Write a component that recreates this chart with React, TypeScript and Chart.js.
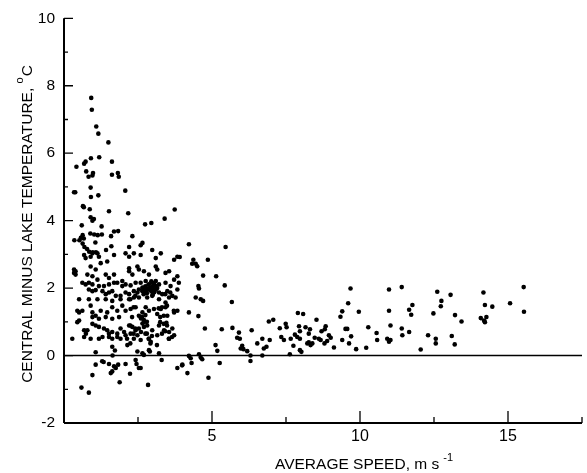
import { useEffect, useRef } from "react";
import { Chart, registerables } from "chart.js";

Chart.register(...registerables);

// ---- axis definitions ----
const xMin = 0;
const xMax = 17.5;
const yMin = -2;
const yMax = 10;
const xTickValues = [5, 10, 15];
const xMinorTicks = [2.5, 7.5, 12.5, 17.5];
const yTickValues = [-2, 0, 2, 4, 6, 8, 10];
const yMinorTicks = [-1, 1, 3, 5, 7, 9];
const xTitle = "AVERAGE SPEED, m s";
const xTitleSup = "-1";
const yTitle = "CENTRAL MINUS LAKE TEMPERATURE, ";
const yTitleSup = "o";
const yTitleUnit = "C";

// ---- data: [average speed (m/s), central minus lake temperature (°C)] ----
const largeDiffPoints: [number, number][] = [
  [0.92, 7.64], [0.94, 7.29], [1.09, 6.79], [1.16, 6.58], [1.5, 6.32], [0.91, 5.85], [1.19, 5.88],
  [0.68, 5.69], [0.73, 5.75], [0.42, 5.6], [1.62, 5.75], [0.75, 5.46], [0.98, 5.41], [0.96, 5.34],
  [0.83, 5.3], [1.62, 5.36], [1.82, 5.41], [1.85, 5.3], [0.9, 4.98], [0.34, 4.84], [0.38, 4.84],
  [2.07, 4.89], [0.91, 4.7], [1.16, 4.75], [2.17, 4.22], [1.52, 4.28], [0.64, 4.43], [0.67, 4.4],
  [0.87, 4.34], [0.9, 4.1], [1.01, 4.05], [0.96, 4.0], [1.27, 3.83], [0.6, 3.86], [2.74, 3.89],
  [2.95, 3.93], [3.4, 4.06], [3.74, 4.33], [1.69, 3.68], [1.83, 3.69], [2.31, 3.54], [2.65, 3.34],
  [4.22, 3.3], [5.46, 3.22], [0.89, 3.62], [1.02, 3.59], [1.14, 3.57], [0.63, 3.57], [0.57, 3.49],
  [0.52, 3.42], [0.35, 3.42], [0.67, 3.47], [1.28, 3.59], [1.59, 3.54], [0.63, 3.32], [0.69, 3.22],
  [1.06, 3.35], [1.6, 3.24], [2.2, 3.22], [2.59, 3.27], [0.78, 3.16], [0.85, 3.08], [0.97, 3.06],
  [1.08, 3.06], [1.42, 3.13],
];

const calmUpperPoints: [number, number][] = [
  [0.68, 2.98], [0.73, 2.89], [0.9, 2.93], [0.96, 3.03], [1.13, 3.03], [1.18, 2.93], [1.24, 2.74],
  [1.46, 2.79], [1.69, 2.98], [2.08, 3.03], [2.2, 2.93], [2.36, 3.03], [2.59, 2.98], [2.98, 3.13],
  [3.1, 2.89], [3.27, 3.03], [3.72, 2.84], [3.83, 2.93], [0.34, 2.55], [0.39, 2.5], [0.9, 2.64],
  [1.07, 2.55], [0.34, 2.45], [0.39, 2.4], [0.79, 2.4], [0.96, 2.35], [1.13, 2.25], [1.41, 2.4],
  [1.52, 2.3], [1.69, 2.4], [1.8, 2.16], [1.97, 2.21], [2.2, 2.59], [2.2, 2.5], [2.31, 2.4],
  [2.48, 2.64], [2.53, 2.55], [2.7, 2.5], [2.87, 2.4], [3.1, 2.64], [3.15, 2.55], [3.43, 2.45],
  [3.55, 2.5], [3.72, 2.25], [3.83, 2.35], [3.88, 2.16], [0.62, 2.16], [0.73, 2.11], [0.84, 2.16],
  [0.96, 2.11], [1.18, 2.06], [1.35, 2.06], [1.52, 2.11], [1.69, 2.16], [1.97, 2.06], [2.08, 2.11],
  [2.25, 2.08], [2.42, 2.16], [2.59, 2.16], [2.76, 2.21], [2.87, 2.11], [2.98, 2.16], [3.1, 2.21],
  [3.21, 2.11], [3.43, 2.16], [3.6, 2.06], [3.91, 2.92],
];

const calmLowerPoints: [number, number][] = [
  [0.51, 1.67], [0.84, 1.96], [0.96, 1.91], [1.07, 1.94], [1.3, 1.91], [1.41, 1.82], [1.52, 1.87],
  [1.63, 1.91], [1.75, 1.77], [1.91, 1.77], [2.08, 1.87], [2.2, 1.82], [2.36, 1.91], [2.48, 1.87],
  [2.53, 1.96], [2.65, 1.91], [2.7, 2.01], [2.76, 1.87], [2.81, 1.96], [2.93, 2.01], [3.04, 1.96],
  [3.1, 2.06], [3.21, 1.87], [3.32, 1.82], [3.49, 1.91], [3.55, 1.72], [3.66, 1.77], [3.77, 1.72],
  [3.83, 1.96], [0.84, 1.67], [1.13, 1.67], [1.41, 1.67], [1.63, 1.62], [1.91, 1.67], [2.2, 1.67],
  [2.36, 1.72], [2.53, 1.72], [2.81, 1.72], [2.98, 1.77], [3.21, 1.67], [3.43, 1.57],
  [0.45, 1.33], [0.51, 1.28], [0.62, 1.33], [0.9, 1.48], [0.96, 1.28], [1.07, 1.18], [1.24, 1.33],
  [1.46, 1.28], [1.63, 1.43], [1.8, 1.33], [1.97, 1.48], [2.08, 1.33], [2.25, 1.38], [2.42, 1.43],
  [2.53, 1.18], [2.59, 1.14], [2.65, 1.28], [2.76, 1.43], [2.87, 1.33], [3.04, 1.38], [3.15, 1.23],
  [3.27, 1.38], [3.43, 1.43], [3.49, 1.18], [3.72, 1.28], [3.83, 1.33], [0.96, 1.14], [1.18, 1.09],
  [1.41, 1.14], [1.63, 1.09], [1.86, 1.14],
  [0.45, 0.99], [0.51, 1.04], [0.68, 0.75], [0.79, 0.75], [0.96, 0.94], [1.07, 0.89], [1.18, 0.85],
  [1.35, 0.8], [1.46, 0.75], [1.52, 0.65], [1.63, 0.7], [1.8, 0.65], [1.91, 0.8], [2.03, 0.7],
  [2.2, 0.89], [2.31, 0.85], [2.42, 0.75], [2.53, 0.8], [2.7, 0.99], [2.81, 0.89], [2.98, 0.75],
  [3.21, 0.89], [3.38, 0.75], [3.55, 0.7], [3.66, 0.8], [3.72, 0.6], [0.28, 0.5],
  [0.68, 0.55], [0.9, 0.5], [1.18, 0.5], [1.3, 0.55], [1.52, 0.55], [1.63, 0.5], [1.8, 0.55],
  [1.91, 0.5], [2.08, 0.6], [2.25, 0.65], [2.36, 0.5], [2.48, 0.6], [2.59, 0.46], [2.87, 0.5],
  [2.93, 0.41], [3.15, 0.6], [3.55, 0.5], [1.63, 0.26], [2.14, 0.31], [2.87, 0.16],
  [3.21, 0.07], [0.74, 0.65], [1.64, 0.0],
];

const denseCorePoints: [number, number][] = [
  [2.75, 2.05], [2.85, 2.1], [2.9, 1.95], [3.0, 2.05], [3.05, 2.12], [2.95, 1.9], [2.8, 1.85],
  [3.1, 1.95], [2.7, 1.95], [2.95, 2.2], [3.15, 2.0], [2.65, 2.02], [3.0, 1.8], [2.85, 1.98],
  [3.05, 1.88], [2.6, 1.1], [2.7, 1.05], [2.75, 1.2], [2.65, 0.95], [2.8, 1.0], [2.7, 0.85],
  [2.6, 0.7], [2.75, 0.65], [3.31, 0.65], [3.54, 0.5], [3.65, 0.55], [2.97, 0.58], [3.14, 0.31],
  [2.92, 0.36], [3.42, 0.72], [3.48, 0.89], [3.25, 0.99], [3.37, 0.94], [3.46, 0.97], [3.25, 1.14],
  [3.37, 1.18], [3.71, 1.33], [3.31, 1.43], [3.2, 1.4], [3.48, 1.48], [3.42, 1.82], [3.59, 1.87],
  [2.24, 1.67], [2.41, 1.77], [2.69, 1.82], [2.35, 1.43], [2.64, 1.14], [2.3, 1.14], [2.24, 0.89],
  [2.41, 0.8], [2.35, 0.65], [2.8, 0.65], [2.86, 0.5], [2.13, 0.5], [2.24, 0.36],
];

const nearZeroPoints: [number, number][] = [
  [4.22, -0.01], [4.28, -0.08], [4.56, 0.04], [4.62, -0.06], [4.67, -0.11], [4.17, -0.52],
  [4.0, -0.27], [3.83, -0.37], [4.31, -0.22], [4.88, -0.66], [5.26, -0.22], [3.3, -0.13],
  [2.84, -0.87], [2.42, -0.13], [2.45, -0.25], [2.53, -0.37], [2.59, -0.37], [2.08, -0.25],
  [2.23, -0.54], [1.88, -0.79], [1.69, -0.32], [1.63, -0.47], [1.58, -0.52], [1.75, -0.37],
  [1.83, -0.27], [1.52, -0.25], [1.29, -0.17], [1.07, -0.27], [0.96, -0.58], [0.59, -0.95],
  [0.84, -1.1], [1.72, 0.15], [1.07, 0.1], [2.65, 0.07], [2.7, 0.02], [2.9, 0.12], [2.48, 0.12],
  [3.99, -0.29], [1.34, -0.19],
];

const moderateWindPoints: [number, number][] = [
  [4.37, 2.84], [4.33, 2.72], [4.45, 2.72], [4.5, 2.65], [4.7, 2.37], [4.86, 2.84], [5.14, 2.35],
  [5.43, 2.08], [4.54, 2.06], [4.56, 1.99], [4.22, 1.28], [4.54, 1.17], [4.45, 1.72], [4.62, 1.67],
  [4.7, 1.62], [5.67, 1.59], [4.76, 0.8], [5.33, 0.78], [5.69, 0.82], [5.12, 0.31], [5.18, 0.14],
  [5.85, 0.53], [5.94, 0.5], [5.91, 0.68], [6.02, 0.29], [6.06, 0.19], [6.19, 0.13], [5.97, 0.21],
  [6.34, 0.75], [6.53, 0.36], [6.7, 0.5], [6.75, 0.21], [6.84, 0.26], [6.95, 0.46], [6.7, 0.0],
  [6.3, 0.0], [6.3, -0.16], [6.92, 1.01], [7.07, 1.06], [7.29, 0.81], [7.49, 0.94], [7.52, 0.84],
  [7.34, 0.55], [7.43, 0.46], [7.66, 0.5], [7.75, 0.29], [7.63, 0.04], [7.8, 0.62], [7.88, 0.55],
  [7.97, 0.5], [7.9, 1.26], [8.08, 1.23], [7.94, 0.87], [7.97, 0.72], [7.97, 0.16], [8.02, 0.11],
  [8.16, 0.84], [8.31, 0.78], [8.27, 0.65], [8.22, 0.36], [8.33, 0.31], [8.27, 0.39], [8.39, 0.36],
  [8.53, 1.06], [8.47, 0.53], [8.61, 0.5], [8.67, 0.46], [8.7, 0.72], [8.84, 0.87], [8.81, 0.78],
  [8.8, 0.36], [8.89, 0.43], [8.95, 0.6], [9.01, 0.53], [9.12, 0.24], [9.34, 1.15], [9.4, 1.31],
  [9.4, 0.46], [9.51, 0.79], [9.57, 0.79], [9.6, 1.55], [9.68, 1.99], [9.7, 0.57], [9.63, 0.36],
  [9.87, 0.19], [9.96, 1.3], [10.21, 0.23], [10.28, 0.84], [10.56, 0.67], [10.58, 0.46],
  [10.98, 1.96], [10.98, 1.33], [11.03, 0.89], [10.92, 0.5], [10.98, 0.41], [11.03, 0.46],
];

const strongWindPoints: [number, number][] = [
  [11.41, 2.03], [11.41, 0.8], [11.43, 0.6], [11.66, 0.7], [11.66, 1.36], [11.77, 1.5], [11.73, 1.21],
  [12.05, 0.18], [12.3, 0.6], [12.61, 1.89], [12.75, 1.62], [12.73, 1.46], [12.48, 1.25], [12.56, 0.5],
  [12.56, 0.36], [13.06, 1.8], [13.21, 1.2], [13.43, 1.01], [13.1, 0.58], [13.2, 0.33], [14.17, 1.87],
  [14.22, 1.5], [14.47, 1.45], [14.08, 1.11], [14.19, 1.04], [14.27, 1.14], [14.22, 0.99], [15.07, 1.55],
  [15.53, 2.03], [15.54, 1.3],
];

const FONT = "'Liberation Sans', Arial, Helvetica, sans-serif";

const decorPlugin = {
  id: "decor",
  beforeDatasetsDraw(chart: any) {
    const ctx = chart.ctx;
    const xs = chart.scales.x;
    const ys = chart.scales.y;
    const left = xs.getPixelForValue(xMin);
    const right = xs.getPixelForValue(xMax);
    const top = ys.getPixelForValue(yMax);
    const bottom = ys.getPixelForValue(yMin);
    ctx.save();
    ctx.strokeStyle = "#000";
    ctx.lineCap = "butt";
    ctx.lineWidth = 2;
    ctx.beginPath();
    ctx.moveTo(left, top);
    ctx.lineTo(left, bottom);
    ctx.moveTo(left, bottom);
    ctx.lineTo(right, bottom);
    ctx.stroke();
    ctx.lineWidth = 1.5;
    const y0 = ys.getPixelForValue(0);
    ctx.beginPath();
    ctx.moveTo(left, y0);
    ctx.lineTo(right, y0);
    ctx.stroke();
    ctx.lineWidth = 1.3;
    ctx.beginPath();
    yTickValues.forEach((v) => {
      const p = ys.getPixelForValue(v);
      ctx.moveTo(left, p);
      ctx.lineTo(left + 9, p);
    });
    yMinorTicks.forEach((v) => {
      const p = ys.getPixelForValue(v);
      ctx.moveTo(left, p);
      ctx.lineTo(left + 4, p);
    });
    xTickValues.forEach((v) => {
      const p = xs.getPixelForValue(v);
      ctx.moveTo(p, bottom);
      ctx.lineTo(p, bottom - 12);
    });
    xMinorTicks.forEach((v) => {
      const p = xs.getPixelForValue(v);
      ctx.moveTo(p, bottom);
      ctx.lineTo(p, bottom - 6);
    });
    ctx.stroke();
    ctx.restore();
  },
  afterDraw(chart: any) {
    const ctx = chart.ctx;
    ctx.save();
    ctx.fillStyle = "#000";
    ctx.textBaseline = "alphabetic";
    ctx.textAlign = "left";
    ctx.font = `15.5px ${FONT}`;
    const xw = ctx.measureText(xTitle).width;
    const xStart = 275;
    ctx.fillText(xTitle, xStart, 469);
    ctx.font = `11px ${FONT}`;
    ctx.fillText(xTitleSup, xStart + xw + 4, 461);
    ctx.translate(31.5, 224);
    ctx.rotate(-Math.PI / 2);
    ctx.font = `15.5px ${FONT}`;
    const w1 = ctx.measureText(yTitle).width;
    const w3 = ctx.measureText(yTitleUnit).width;
    ctx.font = `11px ${FONT}`;
    const w2 = ctx.measureText(yTitleSup).width;
    const total = w1 + w2 + 1 + w3;
    let u = -total / 2;
    ctx.font = `15.5px ${FONT}`;
    ctx.fillText(yTitle, u, 0);
    u += w1;
    ctx.font = `11px ${FONT}`;
    ctx.fillText(yTitleSup, u, -9);
    u += w2 + 1;
    ctx.font = `15.5px ${FONT}`;
    ctx.fillText(yTitleUnit, u, 0);
    ctx.restore();
  },
};

export default function App() {
  const canvasRef = useRef<HTMLCanvasElement | null>(null);

  useEffect(() => {
    document.body.style.margin = "0";
    const canvas = canvasRef.current;
    if (!canvas) return;
    const all = [
      ...largeDiffPoints,
      ...calmUpperPoints,
      ...calmLowerPoints,
      ...denseCorePoints,
      ...nearZeroPoints,
      ...moderateWindPoints,
      ...strongWindPoints,
    ].map(([x, y]) => ({ x, y }));

    const chart = new Chart(canvas, {
      type: "scatter",
      data: {
        datasets: [
          {
            data: all,
            pointRadius: 2.3,
            pointBackgroundColor: "#000",
            pointBorderWidth: 0,
            pointHoverRadius: 2.3,
          },
        ],
      },
      options: {
        animation: false,
        responsive: false,
        maintainAspectRatio: false,
        devicePixelRatio: 1,
        layout: { padding: { top: 12, right: 5, left: 0, bottom: 0 } },
        plugins: { legend: { display: false }, tooltip: { enabled: false }, title: { display: false } },
        scales: {
          x: {
            type: "linear",
            min: xMin,
            max: xMax,
            grid: { display: false, drawTicks: false },
            border: { display: false },
            afterBuildTicks: (s: any) => {
              s.ticks = xTickValues.map((v) => ({ value: v }));
            },
            afterFit: (s: any) => {
              s.height = 50;
            },
            ticks: {
              color: "#000",
              font: { family: FONT, size: 16 },
              padding: 4,
              maxRotation: 0,
              autoSkip: false,
            },
          },
          y: {
            type: "linear",
            min: yMin,
            max: yMax,
            grid: { display: false, drawTicks: false },
            border: { display: false },
            afterBuildTicks: (s: any) => {
              s.ticks = yTickValues.map((v) => ({ value: v }));
            },
            afterFit: (s: any) => {
              s.width = 64;
            },
            ticks: {
              color: "#000",
              font: { family: FONT, size: 15.5 },
              padding: 9,
              autoSkip: false,
            },
          },
        },
      },
      plugins: [decorPlugin],
    });
    return () => chart.destroy();
  }, []);

  return <canvas ref={canvasRef} width={587} height={473} style={{ display: "block" }} />;
}
